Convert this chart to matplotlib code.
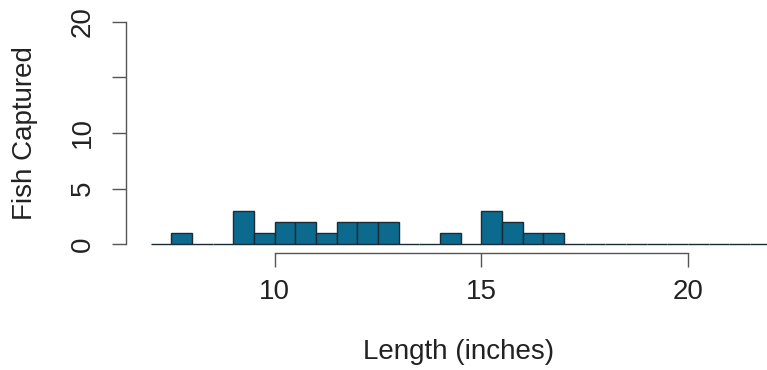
import numpy as np
import matplotlib

matplotlib.use("Agg")
import matplotlib.pyplot as plt

# half-inch length bins, left edges, and fish counted in each
bin_left = [7.0, 7.5, 8.0, 8.5, 9.0, 9.5, 10.0, 10.5, 11.0, 11.5,
            12.0, 12.5, 13.0, 13.5, 14.0, 14.5, 15.0, 15.5, 16.0, 16.5,
            17.0, 17.5, 18.0, 18.5, 19.0, 19.5, 20.0, 20.5, 21.0, 21.5]
counts = [0, 1, 0, 0, 3, 1, 2, 2, 1, 2,
          2, 2, 0, 0, 1, 0, 3, 2, 1, 1,
          0, 0, 0, 0, 0, 0, 0, 0, 0, 0]
bin_width = 0.5
x_ticks = [10, 15, 20]
y_ticks = [0, 5, 10, 15, 20]
y_ticklabels = ["0", "5", "10", "", "20"]

plt.rcParams["font.family"] = ["Liberation Sans", "DejaVu Sans"]
fig = plt.figure(figsize=(7.67, 3.70), dpi=100)
# R-style plot region; the right edge runs off the canvas
ax = fig.add_axes([126 / 767, (370 - 252.9) / 370, (795.4 - 126) / 767, (252.9 - 13.1) / 370])

ax.bar(bin_left, counts, width=bin_width, align="edge",
       color="#0b6a8e", edgecolor="#1c2b33", linewidth=1.0)

ax.set_xlim(6.4, 22.6)
ax.set_ylim(-0.8, 20.8)

for side in ("top", "right"):
    ax.spines[side].set_visible(False)
for side in ("left", "bottom"):
    ax.spines[side].set_color("#555555")
    ax.spines[side].set_linewidth(1.0)
ax.spines["left"].set_bounds(0, 20)
ax.spines["bottom"].set_bounds(10, 20)

ax.set_xticks(x_ticks)
ax.set_yticks(y_ticks)
ax.set_yticklabels(y_ticklabels, rotation=90, va="center")
ax.tick_params(axis="both", length=10, width=1.0, color="#555555",
               labelsize=20, labelcolor="#222222")
ax.tick_params(axis="x", pad=9)
ax.tick_params(axis="y", pad=12)

fig.text(459 / 767, 1 - 352 / 370, "Length (inches)", fontsize=20,
         color="#222222", ha="center", va="center")
fig.text(25 / 767, 1 - 133 / 370, "Fish Captured", fontsize=20,
         color="#222222", ha="center", va="center", rotation=90)

fig.savefig("out.png", dpi=100)
plt.close(fig)
